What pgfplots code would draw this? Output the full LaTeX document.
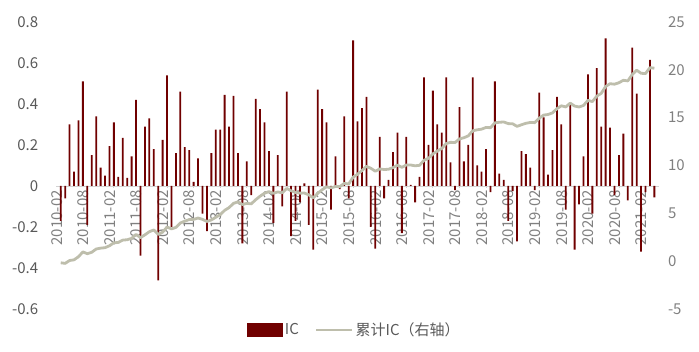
\documentclass[border=0pt]{standalone}
\usepackage{fontspec}
\setmainfont{Noto Sans CJK SC}
\usepackage{pgfplots}
\pgfplotsset{compat=1.18}
\usepackage{pgfplotstable}
\definecolor{barred}{RGB}{112,0,0}
\definecolor{linegray}{RGB}{190,190,172}
\definecolor{txtgray}{RGB}{89,89,89}
\definecolor{ltgray}{RGB}{128,128,128}
\pgfplotstableread{
x ic cum
0 -0.17 -0.17
1 -0.06 -0.23
2 0.30 0.07
3 0.07 0.14
4 0.32 0.46
5 0.51 0.97
6 -0.19 0.78
7 0.15 0.93
8 0.34 1.27
9 0.09 1.36
10 0.05 1.41
11 0.195 1.61
12 0.31 1.92
13 0.045 1.96
14 0.235 2.20
15 0.04 2.24
16 0.145 2.38
17 0.42 2.80
18 -0.34 2.46
19 0.29 2.75
20 0.33 3.08
21 0.18 3.26
22 -0.46 2.80
23 0.225 3.03
24 0.54 3.57
25 -0.20 3.37
26 0.16 3.53
27 0.46 3.99
28 0.19 4.18
29 0.175 4.35
30 0.02 4.37
31 0.135 4.51
32 -0.135 4.37
33 -0.22 4.15
34 0.16 4.31
35 0.275 4.59
36 0.275 4.86
37 0.445 5.31
38 0.29 5.60
39 0.44 6.04
40 0.16 6.20
41 -0.28 5.92
42 0.12 6.04
43 -0.045 5.99
44 0.425 6.42
45 0.375 6.79
46 0.31 7.10
47 0.17 7.27
48 -0.18 7.09
49 0.15 7.24
50 -0.10 7.14
51 0.46 7.60
52 -0.245 7.36
53 -0.17 7.19
54 -0.08 7.11
55 0.013 7.12
56 -0.19 6.93
57 -0.31 6.62
58 0.47 7.09
59 0.375 7.46
60 0.31 7.77
61 -0.115 7.66
62 0.145 7.80
63 -0.015 7.79
64 0.34 8.13
65 -0.06 8.07
66 0.71 8.78
67 0.315 9.09
68 0.38 9.47
69 0.435 9.91
70 -0.20 9.71
71 -0.305 9.40
72 0.24 9.64
73 -0.06 9.58
74 0.03 9.61
75 0.165 9.78
76 0.26 10.04
77 -0.23 9.81
78 0.24 10.05
79 0.006 10.05
80 -0.08 9.97
81 0.045 10.02
82 0.53 10.55
83 0.20 10.75
84 0.465 11.21
85 0.30 11.51
86 0.26 11.77
87 0.53 12.30
88 0.115 12.42
89 -0.02 12.40
90 0.385 12.78
91 0.12 12.90
92 0.20 13.10
93 0.53 13.63
94 0.10 13.73
95 0.07 13.80
96 0.18 13.98
97 -0.03 13.95
98 0.51 14.46
99 0.06 14.52
100 0.03 14.55
101 -0.17 14.38
102 -0.025 14.36
103 -0.27 14.09
104 0.17 14.26
105 0.155 14.41
106 0.09 14.50
107 -0.02 14.48
108 0.455 14.94
109 0.335 15.27
110 0.055 15.33
111 0.175 15.50
112 0.435 15.94
113 0.30 16.24
114 -0.115 16.12
115 0.40 16.52
116 -0.31 16.21
117 -0.09 16.12
118 0.145 16.27
119 0.545 16.81
120 -0.135 16.68
121 0.575 17.25
122 0.29 17.54
123 0.72 18.26
124 0.285 18.55
125 -0.045 18.50
126 0.15 18.65
127 0.255 18.91
128 -0.07 18.84
129 0.675 19.51
130 0.45 19.96
131 -0.32 19.64
132 -0.03 19.61
133 0.615 20.23
134 -0.055 20.17
}\data
\begin{document}
\begin{tikzpicture}
\useasboundingbox (-56.3pt,-42pt) rectangle (642.7pt,309pt);
\begin{axis}[
  at={(0pt,0pt)}, anchor=south west,
  scale only axis, width=602.5pt, height=287pt,
  xmin=-1, xmax=135, ymin=-0.6, ymax=0.8,
  axis x line=middle, axis y line=left,
  hide obscured x ticks=false, hide obscured y ticks=false,
  x axis line style={-, draw=gray!35, line width=0.8pt},
  y axis line style={draw=none},
  ytick={-0.6,-0.4,-0.2,0,0.2,0.4,0.6,0.8},
  yticklabels={-0.6,-0.4,-0.2,0,0.2,0.4,0.6,0.8},
  ytick style={draw=none},
  yticklabel style={anchor=east, inner sep=0pt, xshift=-16pt, text=txtgray, font=\fontsize{15}{18}\selectfont},
  xtick={0,6,...,132},
  xticklabels={2010-02,2010-08,2011-02,2011-08,2012-02,2012-08,2013-02,2013-08,2014-02,2014-08,2015-02,2015-08,2016-02,2016-08,2017-02,2017-08,2018-02,2018-08,2019-02,2019-08,2020-02,2020-08,2021-02},
  xtick style={draw=gray!35, line width=0.8pt},
  major tick length=2pt, tick align=outside,
  xticklabel style={xshift=-4pt, yshift=-2pt, rotate=90, anchor=east, inner sep=0pt, text=ltgray, font=\fontsize{15}{18}\selectfont},
  ybar, bar width=1.8pt,
]
\addplot[fill=barred, draw=none] table[x=x, y=ic] {\data};
\end{axis}
\begin{axis}[
  at={(0pt,0pt)}, anchor=south west,
  scale only axis, width=602.5pt, height=287pt,
  xmin=-1, xmax=135, ymin=-5, ymax=25,
  axis x line=none, axis y line*=right,
  y axis line style={draw=none},
  ytick={-5,0,5,10,15,20,25},
  yticklabels={-5,0,5,10,15,20,25},
  ytick style={draw=none},
  yticklabel style={anchor=west, inner sep=0pt, xshift=9pt, text=ltgray, font=\fontsize{15}{18}\selectfont},
  legend style={at={(0.495,-0.073)}, anchor=center, draw=none, fill=none,
    legend columns=2, font=\fontsize{15}{18}\selectfont, text=txtgray,
    /tikz/every even column/.append style={column sep=14pt}},
  legend cell align=left,
]
\addlegendimage{legend image code/.code={\fill[barred] (0pt,-6.5pt) rectangle (35pt,6.5pt);}}
\addlegendentry{IC}
\addplot[linegray, line width=2.8pt, line join=round, mark=none,
  legend image code/.code={\draw[linegray, line width=2.8pt] (0pt,0pt) -- (36pt,0pt);}]
  table[x=x, y=cum] {\data};
\addlegendentry{累计IC（右轴）}
\end{axis}
\end{tikzpicture}
\end{document}
